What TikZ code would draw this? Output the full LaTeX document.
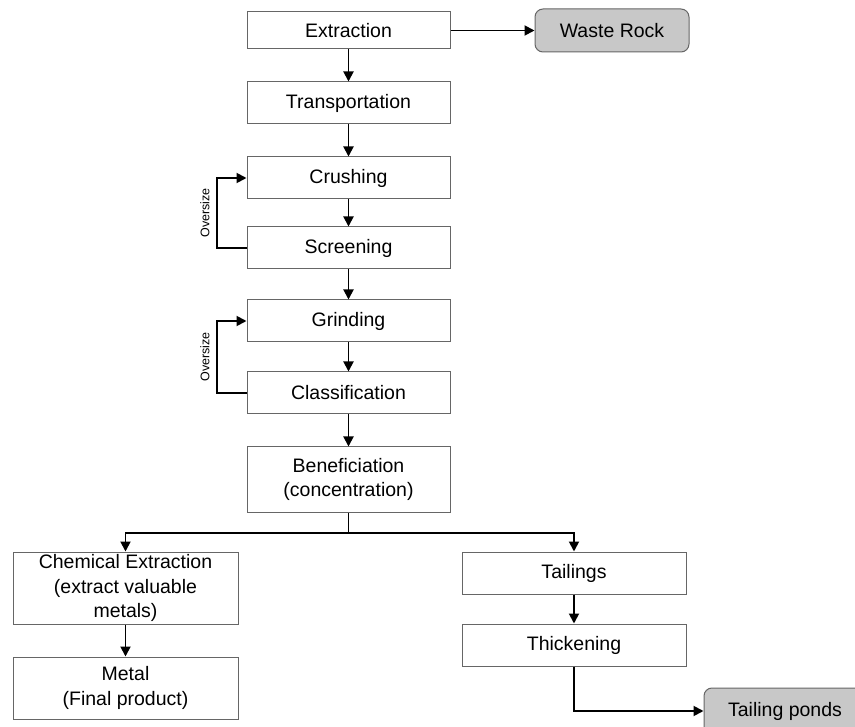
\documentclass[tikz,border=0pt]{standalone}
\usepackage{fontspec}
\setmainfont{Liberation Sans}
\usetikzlibrary{arrows.meta,positioning}
\definecolor{boxline}{HTML}{666666}
\definecolor{boxgray}{HTML}{C8C8C8}
\begin{document}
\begin{tikzpicture}[x=1pt,y=-1pt,
  procbox/.style={draw=boxline, line width=1pt, fill=white, inner sep=0pt, align=center,
    font=\fontsize{19.5}{24.5}\selectfont, minimum width=203pt, minimum height=42pt},
  sidebox/.style={procbox, minimum width=225pt},
  outbox/.style={draw=boxline, line width=1pt, fill=boxgray, rounded corners=8pt, inner sep=0pt,
    align=center, font=\fontsize{19.5}{24.5}\selectfont},
  flow/.style={draw=black, line width=1.9pt, -{Triangle[length=10pt,width=10pt]}},
  looplabel/.style={font=\fontsize{12.5}{14}\selectfont, rotate=90, inner sep=0pt}
]
\useasboundingbox (0,0) rectangle (855,727);

\node[procbox, minimum height=37pt] (extr) at (348.5,30.5) {Extraction};
\node[outbox, minimum width=154pt, minimum height=43pt] (waste) at (612,30.5) {Waste Rock};
\node[procbox] (trans) at (348.5,103) {Transportation};
\node[procbox] (crush) at (348.5,178) {Crushing};
\node[procbox] (screen) at (348.5,248) {Screening};
\node[procbox] (grind) at (348.5,321) {Grinding};
\node[procbox] (class) at (348.5,393) {Classification};
\node[procbox, minimum height=65pt] (benef) at (348.5,479.5) {Beneficiation\\(concentration)};
\node[sidebox, minimum height=72pt] (chem) at (125.5,588) {Chemical Extraction\\(extract valuable\\metals)};
\node[sidebox, minimum height=62pt] (metal) at (125.5,688) {Metal\\(Final product)};
\node[procbox, minimum width=224pt] (tail) at (574,573) {Tailings};
\node[procbox, minimum width=224pt] (thick) at (574,645) {Thickening};
\node[outbox, minimum width=162pt, minimum height=46pt] (ponds) at (785,711) {Tailing ponds};

\coordinate (split) at (348.5,533);

\draw[flow] (extr) -- (waste);
\draw[flow] (extr) -- (trans);
\draw[flow] (trans) -- (crush);
\draw[flow] (crush) -- (screen);
\draw[flow] (screen) -- (grind);
\draw[flow] (grind) -- (class);
\draw[flow] (class) -- (benef);

\draw[flow] (screen.west) -- (217,248) |- (crush.west);
\draw[flow] (class.west) -- (217,393) |- (grind.west);
\node[looplabel] (os1) at (205,213) {Oversize};
\node[looplabel] (os2) at (205,357) {Oversize};

\draw[line width=1.9pt] (benef.south) -- (split);
\draw[flow] (split) -| (chem.north);
\draw[flow] (split) -| (tail.north);
\draw[flow] (chem) -- (metal);
\draw[flow] (tail) -- (thick);
\draw[flow] (thick.south) |- (ponds.west);
\end{tikzpicture}
\end{document}
